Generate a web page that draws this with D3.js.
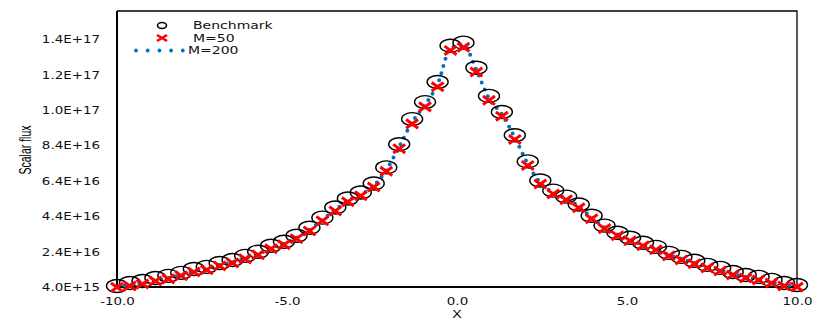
<!DOCTYPE html>
<html>
<head>
<meta charset="utf-8">
<script src="https://cdn.jsdelivr.net/npm/d3@7"></script>
<style>
  body { margin: 0; background: #fff; }
  svg { display: block; }
</style>
</head>
<body>
<svg class="chart"></svg>
<script>
// x positions of the benchmark cells
var xs = [-10.00, -9.62, -9.25, -8.87, -8.49, -8.11, -7.74, -7.36, -6.98, -6.60,
  -6.23, -5.85, -5.47, -5.09, -4.72, -4.34, -3.96, -3.58, -3.21, -2.83,
  -2.45, -2.08, -1.70, -1.32, -0.94, -0.57, -0.19,
  0.19, 0.57, 0.94, 1.32, 1.70, 2.08, 2.45, 2.83, 3.21, 3.58,
  3.96, 4.34, 4.72, 5.09, 5.47, 5.85, 6.23, 6.60, 6.98, 7.36,
  7.74, 8.11, 8.49, 8.87, 9.25, 9.62, 10.00];
// scalar flux, in units of 1e16
var benchmark = [0.46, 0.63, 0.74, 0.91, 1.03, 1.20, 1.42, 1.54, 1.76, 1.93,
  2.16, 2.39, 2.73, 2.96, 3.30, 3.75, 4.32, 4.89, 5.40, 5.74,
  6.25, 7.16, 8.47, 9.89, 10.85, 11.99, 14.04,
  14.21, 12.79, 11.20, 10.29, 8.98, 7.50, 6.42, 5.85, 5.51, 5.06,
  4.43, 3.87, 3.47, 3.18, 2.90, 2.67, 2.33, 2.10, 1.88, 1.65,
  1.48, 1.25, 1.08, 0.97, 0.80, 0.63, 0.51];
var m50 = [0.38, 0.46, 0.57, 0.74, 0.86, 1.03, 1.25, 1.37, 1.59, 1.76,
  1.99, 2.22, 2.56, 2.79, 3.13, 3.57, 4.14, 4.70, 5.22, 5.56,
  6.05, 6.94, 8.22, 9.62, 10.58, 11.72, 13.77,
  13.95, 12.55, 10.95, 10.05, 8.74, 7.27, 6.22, 5.66, 5.33, 4.88,
  4.26, 3.70, 3.30, 3.01, 2.73, 2.50, 2.16, 1.93, 1.71, 1.48,
  1.31, 1.08, 0.91, 0.80, 0.63, 0.46, 0.40];
var m200 = [0.42, 0.52, 0.62, 0.78, 0.90, 1.08, 1.30, 1.42, 1.64, 1.81,
  2.04, 2.27, 2.61, 2.84, 3.18, 3.62, 4.20, 4.76, 5.28, 5.62,
  6.11, 7.02, 8.32, 9.72, 10.70, 11.86, 13.90,
  14.08, 12.66, 11.06, 10.16, 8.84, 7.36, 6.30, 5.74, 5.40, 4.95,
  4.32, 3.76, 3.36, 3.07, 2.79, 2.56, 2.22, 1.99, 1.77, 1.54,
  1.36, 1.14, 0.97, 0.86, 0.69, 0.52, 0.44];
var yTicks = [4e15, 2.4e16, 4.4e16, 6.4e16, 8.4e16, 1.04e17, 1.24e17, 1.44e17];
var xTicks = [-10, -5, 0, 5, 10];
var seriesNames = ["Benchmark", "M=50", "M=200"];

var frameWidth = 830;
var frameHeight = 324;
var lmargin = 117;
var rmargin = 33;
var tmargin = 11;
var bmargin = 37;
var width = frameWidth - lmargin - rmargin;
var height = frameHeight - tmargin - bmargin;

var xScale = d3.scaleLinear().domain([-10, 10]).range([0, width]);
var yScale = d3.scaleLinear().domain([4e15, 1.6e17]).range([height, 0]);

var svg = d3.select(".chart")
  .attr("width", frameWidth)
  .attr("height", frameHeight);

var g = svg.append("g").attr("transform", "translate(" + lmargin + "," + tmargin + ")");

// frame (top and right)
g.append("path")
  .attr("d", "M0,0H" + width + "V" + height)
  .attr("fill", "none")
  .attr("stroke", "#000")
  .attr("stroke-width", 1.3);

var tickFont = "'DejaVu Sans', Verdana, sans-serif";
var sx = 1.37;

// y axis
var yAxis = g.append("g")
  .call(d3.axisLeft(yScale)
    .tickValues(yTicks)
    .tickSize(0)
    .tickFormat(function(d) { return d.toExponential(1).toUpperCase(); }));
yAxis.select(".domain").attr("stroke-width", 2).attr("d", "M0,0V" + height);
yAxis.selectAll("text")
  .attr("x", -17 / sx)
  .attr("dy", "0.35em")
  .attr("transform", "scale(" + sx + ",1)")
  .style("font-family", tickFont)
  .style("font-size", "9.8px")
  .attr("fill", "#111");

// x axis
var xAxis = g.append("g")
  .attr("transform", "translate(0," + height + ")")
  .call(d3.axisBottom(xScale)
    .tickValues(xTicks)
    .tickSize(0)
    .tickFormat(function(d) { return d.toFixed(1); }));
xAxis.select(".domain").attr("stroke-width", 2).attr("d", "M0,0H" + width);
xAxis.selectAll("text")
  .attr("y", 11)
  .attr("transform", "scale(" + sx + ",1)")
  .style("font-family", tickFont)
  .style("font-size", "9.8px")
  .attr("fill", "#111");

// M=200 dotted line
var line200 = d3.line()
  .x(function(d, i) { return xScale(xs[i]); })
  .y(function(d) { return yScale(d * 1e16); })
  .curve(d3.curveMonotoneX);
g.append("path")
  .datum(m200)
  .attr("d", line200)
  .attr("fill", "none")
  .attr("stroke", "#0070C0")
  .attr("stroke-width", 4)
  .attr("stroke-linecap", "round")
  .attr("stroke-dasharray", "0 7.5");

// benchmark circles
g.selectAll(".bench").data(benchmark).enter().append("ellipse")
  .attr("class", "bench")
  .attr("cx", function(d, i) { return xScale(xs[i]); })
  .attr("cy", function(d) { return yScale(d * 1e16); })
  .attr("rx", 10.5)
  .attr("ry", 6.5)
  .attr("fill", "none")
  .attr("stroke", "#000")
  .attr("stroke-width", 1.4);

// M=50 crosses
function cross(sel, w, h, sw) {
  sel.append("path")
    .attr("d", "M" + (-w) + "," + (-h) + "L" + w + "," + h + "M" + (-w) + "," + h + "L" + w + "," + (-h))
    .attr("stroke", "#FF0000")
    .attr("stroke-width", sw)
    .attr("fill", "none");
}
g.selectAll(".m50").data(m50).enter().append("g")
  .attr("class", "m50")
  .attr("transform", function(d, i) { return "translate(" + xScale(xs[i]) + "," + yScale(d * 1e16) + ")"; })
  .call(cross, 6, 4.3, 3);

// legend
var lg = svg.append("g").style("font-family", tickFont).style("font-size", "10px");
lg.append("ellipse")
  .attr("cx", 162).attr("cy", 25.5).attr("rx", 4.5).attr("ry", 3)
  .attr("fill", "none").attr("stroke", "#000").attr("stroke-width", 1.6);
lg.append("g").attr("transform", "translate(162,38)").call(cross, 5, 3, 2.6);
lg.append("line")
  .attr("x1", 136).attr("x2", 183).attr("y1", 50.5).attr("y2", 50.5)
  .attr("stroke", "#0070C0").attr("stroke-width", 3.8)
  .attr("stroke-linecap", "round").attr("stroke-dasharray", "0 11.7");
var legendText = [[193, 29], [193, 41.5], [188, 53.5]];
lg.selectAll("text").data(seriesNames).enter().append("text")
  .attr("transform", function(d, i) { return "translate(" + legendText[i][0] + "," + legendText[i][1] + ") scale(1.4,1)"; })
  .attr("fill", "#111")
  .text(function(d) { return d; });

// axis titles
svg.append("text")
  .attr("transform", "translate(457,318) scale(1.35,1)")
  .style("text-anchor", "middle")
  .style("font-family", "'Liberation Sans', Arial, sans-serif")
  .style("font-size", "10.5px")
  .text("X");

svg.append("text")
  .attr("transform", "translate(31,150) rotate(-90) scale(1,1.5)")
  .style("text-anchor", "middle")
  .style("font-family", "'Liberation Sans', Arial, sans-serif")
  .style("font-size", "10.5px")
  .text("Scalar flux");
</script>
</body>
</html>
